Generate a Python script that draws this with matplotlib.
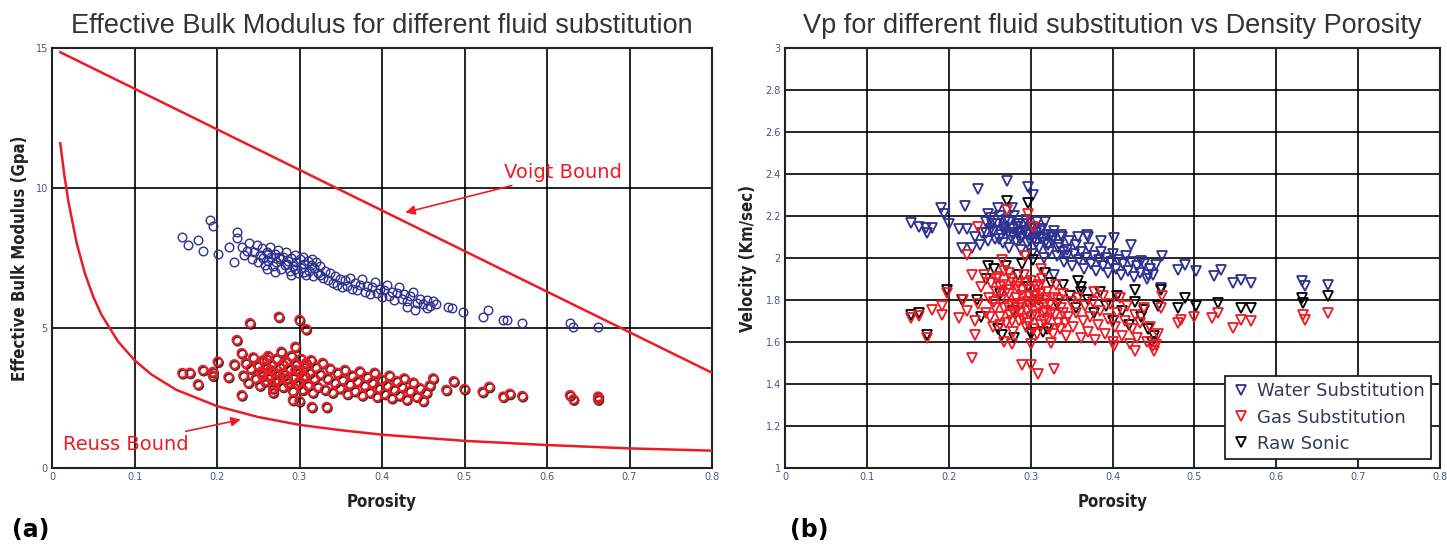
import matplotlib
matplotlib.use('Agg')
import matplotlib.pyplot as plt
import matplotlib.patheffects as pe
from matplotlib.lines import Line2D

# ---------------- data: panel (a) effective bulk modulus ----------------
voigt_phi = [0.01, 0.8]
voigt_k = [14.85, 3.4]

reuss_phi = [0.01, 0.015, 0.02, 0.03, 0.04, 0.05, 0.06, 0.08, 0.10, 0.12,
             0.15, 0.20, 0.25, 0.30, 0.35, 0.40, 0.50, 0.60, 0.70, 0.80]
reuss_k = [11.6, 10.45, 9.5, 8.02, 6.94, 6.12, 5.47, 4.52, 3.85, 3.35,
           2.80, 2.21, 1.82, 1.54, 1.35, 1.19, 0.97, 0.82, 0.70, 0.62]

water_k_phi = [0.158, 0.177, 0.165, 0.183, 0.201, 0.192, 0.195, 0.224, 0.224, 0.214,
               0.220, 0.480, 0.498, 0.522, 0.528, 0.547, 0.570, 0.628, 0.632, 0.662,
               0.465, 0.455, 0.440, 0.430, 0.485, 0.552,
               0.230, 0.233, 0.236, 0.239, 0.242, 0.245, 0.248, 0.250, 0.252, 0.254,
               0.256, 0.258, 0.260, 0.262, 0.264, 0.266, 0.268, 0.270, 0.272, 0.274,
               0.276, 0.278, 0.280, 0.282, 0.284, 0.286, 0.288, 0.290, 0.292, 0.294,
               0.296, 0.298, 0.300, 0.302, 0.304, 0.306, 0.308, 0.310, 0.312, 0.314,
               0.316, 0.318, 0.320, 0.322, 0.325, 0.328, 0.331, 0.334, 0.337, 0.340,
               0.343, 0.346, 0.349, 0.352, 0.355, 0.358, 0.361, 0.364, 0.367, 0.370,
               0.373, 0.376, 0.379, 0.382, 0.385, 0.388, 0.391, 0.394, 0.397, 0.400,
               0.403, 0.406, 0.409, 0.412, 0.415, 0.418, 0.421, 0.424, 0.427, 0.430,
               0.434, 0.438, 0.442, 0.446, 0.450, 0.454, 0.458, 0.462,
               0.262, 0.275, 0.285, 0.295, 0.305, 0.270, 0.290, 0.260, 0.315, 0.325]
water_k = [8.25, 8.14, 7.96, 7.75, 7.64, 8.86, 8.64, 8.43, 8.20, 7.90,
           7.36, 5.75, 5.57, 5.40, 5.64, 5.29, 5.18, 5.17, 5.04, 5.03,
           5.85, 5.70, 5.65, 5.75, 5.70, 5.30,
           7.90, 7.60, 7.75, 8.05, 7.45, 7.70, 7.95, 7.35, 7.60, 7.85,
           7.50, 7.25, 7.70, 7.40, 7.90, 7.55, 7.20, 7.65, 7.35, 7.80,
           7.45, 7.10, 7.55, 7.25, 7.70, 7.40, 7.05, 7.50, 7.20, 7.60,
           7.35, 6.95, 7.45, 7.15, 7.55, 7.30, 6.90, 7.40, 7.05, 7.25,
           6.85, 7.15, 7.35, 6.95, 7.20, 6.80, 7.05, 6.70, 6.95, 6.60,
           6.85, 6.55, 6.75, 6.45, 6.70, 6.50, 6.80, 6.40, 6.60, 6.35,
           6.55, 6.75, 6.30, 6.50, 6.20, 6.45, 6.65, 6.25, 6.40, 6.10,
           6.35, 6.55, 6.15, 6.30, 6.00, 6.25, 6.45, 6.05, 6.20, 5.95,
           6.15, 6.30, 5.90, 6.05, 5.85, 6.00, 5.80, 5.95,
           7.65, 7.55, 7.30, 7.10, 7.00, 7.00, 6.90, 7.10, 7.45, 6.90]

gas_k_phi = [0.158, 0.167, 0.177, 0.183, 0.195, 0.201, 0.195, 0.214, 0.224, 0.221,
             0.230, 0.230, 0.240, 0.275, 0.300, 0.308, 0.295, 0.292, 0.300, 0.315,
             0.333, 0.268, 0.462, 0.478, 0.487, 0.500, 0.522, 0.530, 0.547, 0.555,
             0.570, 0.628, 0.632, 0.662, 0.662,
             0.232, 0.235, 0.238, 0.241, 0.244, 0.247, 0.250, 0.252, 0.254, 0.256,
             0.258, 0.260, 0.262, 0.264, 0.266, 0.268, 0.270, 0.272, 0.274, 0.276,
             0.278, 0.280, 0.282, 0.284, 0.286, 0.288, 0.290, 0.292, 0.294, 0.296,
             0.298, 0.300, 0.302, 0.304, 0.306, 0.308, 0.310, 0.312, 0.314, 0.316,
             0.318, 0.320, 0.322, 0.325, 0.328, 0.331, 0.334, 0.337, 0.340, 0.343,
             0.346, 0.349, 0.352, 0.355, 0.358, 0.361, 0.364, 0.367, 0.370, 0.373,
             0.376, 0.379, 0.382, 0.385, 0.388, 0.391, 0.394, 0.397, 0.400, 0.403,
             0.406, 0.409, 0.412, 0.415, 0.418, 0.421, 0.424, 0.427, 0.430, 0.434,
             0.438, 0.442, 0.446, 0.450, 0.454, 0.458,
             0.255, 0.265, 0.275, 0.285, 0.295, 0.305, 0.260, 0.280, 0.300, 0.270]
gas_k = [3.39, 3.40, 2.99, 3.50, 3.43, 3.80, 3.30, 3.25, 4.57, 3.70,
         4.10, 2.60, 5.17, 5.40, 5.29, 4.96, 4.33, 2.43, 2.39, 2.18,
         2.18, 2.70, 3.20, 2.79, 3.10, 2.82, 2.72, 2.90, 2.55, 2.65,
         2.57, 2.60, 2.45, 2.55, 2.45,
         3.30, 3.75, 3.05, 3.55, 3.95, 3.20, 3.65, 2.95, 3.45, 3.85,
         3.10, 3.60, 4.00, 3.25, 3.70, 2.85, 3.40, 3.90, 3.15, 3.60,
         4.15, 2.90, 3.35, 3.80, 3.05, 3.55, 4.00, 2.75, 3.25, 3.70,
         3.00, 3.45, 3.90, 2.80, 3.30, 3.75, 2.95, 3.40, 3.85, 2.70,
         3.20, 3.60, 2.90, 3.35, 3.75, 2.80, 3.20, 3.55, 2.70, 3.05,
         3.40, 2.85, 3.15, 3.50, 2.65, 3.00, 3.30, 2.75, 3.10, 3.45,
         2.60, 2.95, 3.25, 2.70, 3.05, 3.40, 2.55, 2.85, 3.15, 2.65,
         2.95, 3.30, 2.50, 2.80, 3.10, 2.60, 2.90, 3.20, 2.45, 2.75,
         3.05, 2.55, 2.85, 2.40, 2.70, 2.95,
         3.30, 3.50, 3.35, 3.20, 3.50, 3.60, 3.90, 3.70, 3.10, 3.10]

# ---------------- data: panel (b) P-wave velocity ----------------
water_vp_phi = [0.154, 0.164, 0.172, 0.180, 0.174, 0.191, 0.194, 0.200, 0.220, 0.236,
                0.271, 0.297, 0.303, 0.212, 0.222, 0.216, 0.228, 0.248, 0.260, 0.277,
                0.252, 0.269, 0.285, 0.317, 0.325, 0.337, 0.329, 0.358, 0.370,
                0.480, 0.488, 0.502, 0.524, 0.533, 0.547, 0.557, 0.569, 0.631, 0.635,
                0.663, 0.461, 0.453, 0.459, 0.443, 0.435, 0.422, 0.402, 0.386, 0.369,
                0.232, 0.238, 0.241, 0.245, 0.248, 0.251, 0.254, 0.257, 0.259, 0.262,
                0.264, 0.266, 0.268, 0.270, 0.272, 0.274, 0.276, 0.278, 0.280, 0.282,
                0.284, 0.286, 0.288, 0.290, 0.292, 0.294, 0.296, 0.298, 0.300, 0.302,
                0.304, 0.306, 0.308, 0.310, 0.312, 0.314, 0.316, 0.318, 0.320, 0.323,
                0.326, 0.329, 0.332, 0.335, 0.338, 0.341, 0.344, 0.347, 0.350, 0.353,
                0.356, 0.359, 0.362, 0.365, 0.368, 0.371, 0.374, 0.377, 0.380, 0.383,
                0.386, 0.389, 0.392, 0.395, 0.398, 0.401, 0.404, 0.407, 0.410, 0.413,
                0.416, 0.419, 0.422, 0.426, 0.430, 0.434, 0.438, 0.442, 0.446, 0.450,
                0.245, 0.253, 0.261, 0.267, 0.273, 0.279, 0.283, 0.287, 0.291, 0.295,
                0.299, 0.303, 0.307, 0.311, 0.315, 0.321, 0.327, 0.333, 0.339, 0.345]
water_vp = [2.167, 2.150, 2.143, 2.143, 2.120, 2.240, 2.210, 2.160, 2.250, 2.330,
            2.365, 2.340, 2.300, 2.140, 2.140, 2.050, 2.050, 2.210, 2.240, 2.240,
            2.140, 2.140, 2.160, 2.170, 2.110, 2.110, 1.920, 2.100, 2.100,
            1.944, 1.968, 1.936, 1.913, 1.944, 1.880, 1.897, 1.880, 1.889, 1.865,
            1.873, 2.008, 1.968, 1.857, 1.920, 1.984, 2.063, 2.095, 2.080, 2.110,
            2.10, 2.06, 2.12, 2.17, 2.08, 2.19, 2.13, 2.09, 2.16, 2.20,
            2.11, 2.07, 2.15, 2.18, 2.12, 2.05, 2.10, 2.14, 2.20, 2.08,
            2.12, 2.16, 2.04, 2.10, 2.13, 2.18, 2.07, 2.11, 2.15, 2.02,
            2.09, 2.12, 2.17, 2.05, 2.10, 2.14, 2.00, 2.07, 2.11, 2.03,
            2.08, 2.13, 2.01, 2.06, 2.10, 1.98, 2.04, 2.08, 1.96, 2.02,
            2.06, 1.99, 2.03, 1.95, 2.00, 2.05, 1.97, 2.01, 1.94, 1.99,
            2.03, 1.96, 2.00, 1.93, 1.98, 2.02, 1.95, 1.99, 1.92, 1.97,
            2.01, 1.94, 1.98, 1.91, 1.96, 1.93, 1.97, 1.90, 1.95, 1.92,
            2.12, 2.16, 2.09, 2.13, 2.17, 2.11, 2.15, 2.09, 2.16, 2.12,
            2.08, 2.14, 2.07, 2.13, 2.09, 2.06, 2.10, 2.05, 2.03, 2.01]

gas_vp_phi = [0.484, 0.480, 0.500, 0.522, 0.529, 0.547, 0.557, 0.569, 0.633, 0.635,
              0.663, 0.461, 0.459, 0.451, 0.453, 0.427, 0.402, 0.378,
              0.154, 0.164, 0.174, 0.180, 0.192, 0.192, 0.198, 0.212, 0.218, 0.222,
              0.228, 0.232, 0.222, 0.228, 0.236, 0.271, 0.297, 0.303, 0.293, 0.265,
              0.289, 0.301, 0.309, 0.329, 0.267, 0.277, 0.301, 0.325, 0.313,
              0.232, 0.236, 0.240, 0.243, 0.246, 0.249, 0.252, 0.254, 0.256, 0.258,
              0.260, 0.262, 0.264, 0.266, 0.268, 0.270, 0.272, 0.274, 0.276, 0.278,
              0.280, 0.282, 0.284, 0.286, 0.288, 0.290, 0.292, 0.294, 0.296, 0.298,
              0.300, 0.302, 0.304, 0.306, 0.308, 0.310, 0.312, 0.314, 0.316, 0.318,
              0.320, 0.322, 0.325, 0.328, 0.331, 0.334, 0.337, 0.340, 0.343, 0.346,
              0.349, 0.352, 0.355, 0.358, 0.361, 0.364, 0.367, 0.370, 0.373, 0.376,
              0.379, 0.382, 0.385, 0.388, 0.391, 0.394, 0.397, 0.400, 0.403, 0.406,
              0.409, 0.412, 0.415, 0.418, 0.421, 0.424, 0.427, 0.430, 0.434, 0.438,
              0.442, 0.446, 0.450, 0.455,
              0.255, 0.265, 0.275, 0.285, 0.295, 0.305, 0.315, 0.262, 0.279, 0.291,
              0.250, 0.258, 0.263, 0.267, 0.271, 0.273, 0.277, 0.281, 0.283, 0.287,
              0.289, 0.293, 0.297, 0.299, 0.301, 0.303, 0.307, 0.309, 0.311, 0.313,
              0.317, 0.319, 0.321, 0.324, 0.327, 0.330, 0.333, 0.336, 0.339, 0.342]
gas_vp = [1.706, 1.690, 1.720, 1.714, 1.738, 1.667, 1.706, 1.698, 1.730, 1.706,
          1.738, 1.817, 1.762, 1.556, 1.587, 1.556, 1.579, 1.840,
          1.714, 1.722, 1.619, 1.754, 1.770, 1.730, 1.833, 1.714, 1.800, 1.746,
          1.524, 1.635, 2.016, 1.920, 2.150, 2.230, 2.210, 2.150, 2.008, 1.990,
          1.490, 1.490, 1.450, 1.470, 1.600, 1.590, 1.590, 1.595, 1.950,
          1.70, 1.78, 1.86, 1.92, 1.74, 1.81, 1.88, 1.67, 1.76, 1.84,
          1.91, 1.72, 1.80, 1.87, 1.94, 1.69, 1.77, 1.83, 1.90, 1.65,
          1.74, 1.81, 1.88, 1.70, 1.78, 1.85, 1.92, 1.67, 1.75, 1.82,
          1.89, 1.72, 1.79, 1.86, 1.64, 1.76, 1.83, 1.90, 1.70, 1.78,
          1.84, 1.66, 1.74, 1.81, 1.87, 1.69, 1.76, 1.83, 1.63, 1.72,
          1.79, 1.67, 1.74, 1.81, 1.62, 1.70, 1.77, 1.65, 1.72, 1.79,
          1.61, 1.68, 1.75, 1.82, 1.64, 1.71, 1.78, 1.60, 1.67, 1.74,
          1.81, 1.63, 1.70, 1.77, 1.59, 1.66, 1.73, 1.62, 1.69, 1.76,
          1.60, 1.67, 1.58, 1.64,
          1.79, 1.84, 1.73, 1.76, 1.79, 1.82, 1.74, 1.86, 1.88, 1.71,
          1.72, 1.90, 1.68, 1.76, 1.85, 1.93, 1.70, 1.78, 1.86, 1.74,
          1.82, 1.88, 1.69, 1.77, 1.85, 1.66, 1.73, 1.80, 1.87, 1.68,
          1.75, 1.81, 1.71, 1.78, 1.64, 1.73, 1.80, 1.66, 1.74, 1.69]

raw_vp_phi = [0.488, 0.480, 0.502, 0.529, 0.557, 0.569, 0.631, 0.633, 0.663, 0.459,
              0.455, 0.439, 0.451, 0.427,
              0.198, 0.216, 0.174, 0.164, 0.154, 0.271, 0.297, 0.248, 0.358, 0.362,
              0.265, 0.301, 0.315,
              0.235, 0.245, 0.255, 0.262, 0.270, 0.278, 0.285, 0.290, 0.297, 0.303,
              0.310, 0.318, 0.325, 0.332, 0.340, 0.348, 0.355, 0.362, 0.370, 0.377,
              0.385, 0.392, 0.400, 0.405, 0.412, 0.420, 0.428, 0.435, 0.443, 0.448,
              0.280, 0.300, 0.320, 0.240, 0.260]
raw_vp = [1.810, 1.760, 1.770, 1.786, 1.762, 1.762, 1.810, 1.786, 1.817, 1.849,
          1.770, 1.754, 1.627, 1.849,
          1.850, 1.800, 1.635, 1.738, 1.730, 2.270, 2.260, 1.960, 1.890, 1.840,
          1.635, 1.643, 1.650,
          1.80, 1.90, 1.95, 1.83, 1.96, 1.75, 1.92, 1.97, 1.86, 1.99,
          1.80, 1.93, 1.88, 1.78, 1.87, 1.82, 1.76, 1.86, 1.80, 1.74,
          1.84, 1.77, 1.70, 1.82, 1.75, 1.68, 1.79, 1.72, 1.66, 1.60,
          1.62, 1.64, 1.66, 1.72, 1.66]

porosity_ticks = [0, 0.1, 0.2, 0.3, 0.4, 0.5, 0.6, 0.7, 0.8]
porosity_labels = ['0', '0.1', '0.2', '0.3', '0.4', '0.5', '0.6', '0.7', '0.8']
k_ticks = [0, 5, 10, 15]
vp_ticks = [1, 1.2, 1.4, 1.6, 1.8, 2, 2.2, 2.4, 2.6, 2.8, 3]
vp_labels = ['1', '1.2', '1.4', '1.6', '1.8', '2', '2.2', '2.4', '2.6', '2.8', '3']

# ---------------- styling ----------------
BLUE = '#2e3192'
RED = '#ed1c24'
TICK_COLOR = '#4a5580'
LABEL_FONT = dict(family='DejaVu Sans', stretch='condensed', weight='bold', color='#222222')
TITLE_FONT = dict(family=['Liberation Sans', 'DejaVu Sans'], color='#333333')

W, H = 1447, 550
fig = plt.figure(figsize=(W / 100, H / 100), dpi=100)
fig.patch.set_facecolor('white')

ax1 = fig.add_axes([52 / W, 1 - 468 / H, 660 / W, 420 / H])
ax2 = fig.add_axes([785 / W, 1 - 468 / H, 655 / W, 420 / H])


def style_axes(ax):
    ax.grid(True, color='black', linewidth=1.2)
    ax.set_axisbelow(True)
    for s in ax.spines.values():
        s.set_color('#222222')
        s.set_linewidth(1.5)
    ax.tick_params(length=0, labelsize=7, labelcolor=TICK_COLOR, pad=3)


# ---- panel (a)
style_axes(ax1)
ax1.set_xlim(0, 0.8)
ax1.set_ylim(0, 15)
ax1.set_xticks(porosity_ticks, porosity_labels)
ax1.set_yticks(k_ticks)

ax1.plot(voigt_phi, voigt_k, color=RED, linewidth=1.8, zorder=3)
ax1.plot(reuss_phi, reuss_k, color=RED, linewidth=1.8, zorder=3)

ax1.plot(water_k_phi, water_k, linestyle='none', marker='o', markersize=6.2,
         markerfacecolor='none', markeredgecolor=BLUE, markeredgewidth=1.0, zorder=4)
ax1.plot(gas_k_phi, gas_k, linestyle='none', marker='o', markersize=6.2,
         markerfacecolor='none', markeredgecolor=RED, markeredgewidth=1.4, zorder=4,
         path_effects=[pe.SimpleLineShadow(offset=(0.6, -0.9), shadow_color='black', alpha=0.8),
                       pe.Normal()])

ax1.annotate('Voigt Bound', xy=(0.425, 9.1), xytext=(0.548, 10.55),
             color=RED, fontsize=14, va='center', ha='left',
             arrowprops=dict(arrowstyle='-|>', color=RED, lw=1.2, mutation_scale=14))
ax1.annotate('Reuss Bound', xy=(0.232, 1.75), xytext=(0.013, 0.85),
             color=RED, fontsize=14, va='center', ha='left',
             arrowprops=dict(arrowstyle='-|>', color=RED, lw=1.2, mutation_scale=14))

ax1.set_xlabel('Porosity', fontsize=12, labelpad=8, **LABEL_FONT)
ax1.set_ylabel('Effective Bulk Modulus (Gpa)', fontsize=12, labelpad=5, **LABEL_FONT)
ax1.set_title('Effective Bulk Modulus for different fluid substitution',
              fontsize=19.5, pad=11, **TITLE_FONT)

# ---- panel (b)
style_axes(ax2)
ax2.set_xlim(0, 0.8)
ax2.set_ylim(1, 3)
ax2.set_xticks(porosity_ticks, porosity_labels)
ax2.set_yticks(vp_ticks, vp_labels)

tri = dict(linestyle='none', marker='v', markersize=7.5, markerfacecolor='none', markeredgewidth=1.3)
ax2.plot(water_vp_phi, water_vp, markeredgecolor=BLUE, zorder=3, **tri)
ax2.plot(raw_vp_phi, raw_vp, markeredgecolor='black', zorder=4, **tri)
ax2.plot(gas_vp_phi, gas_vp, markeredgecolor=RED, zorder=5, **tri)

handles = [Line2D([], [], markeredgecolor=BLUE, **tri),
           Line2D([], [], markeredgecolor=RED, **tri),
           Line2D([], [], markeredgecolor='black', **tri)]
leg = ax2.legend(handles, ['Water Substitution', 'Gas Substitution', 'Raw Sonic'],
                 loc='lower right', fontsize=13, frameon=True, fancybox=False,
                 framealpha=1, edgecolor='#222222', borderaxespad=0.5,
                 handlelength=1.0, handletextpad=0.4, borderpad=0.35, labelspacing=0.45)
leg.get_frame().set_linewidth(1.3)
for t in leg.get_texts():
    t.set_color('#333a5a')

ax2.set_xlabel('Porosity', fontsize=12, labelpad=8, **LABEL_FONT)
ax2.set_ylabel('Velocity (Km/sec)', fontsize=12, labelpad=6, **LABEL_FONT)
ax2.set_title('Vp for different fluid substitution vs Density Porosity',
              fontsize=19.5, pad=11, **TITLE_FONT)

fig.text(12 / W, 1 - 530 / H, '(a)', fontsize=17, fontweight='bold', va='center', ha='left')
fig.text(790 / W, 1 - 530 / H, '(b)', fontsize=17, fontweight='bold', va='center', ha='left')

fig.savefig('out.png', dpi=100, facecolor='white')
